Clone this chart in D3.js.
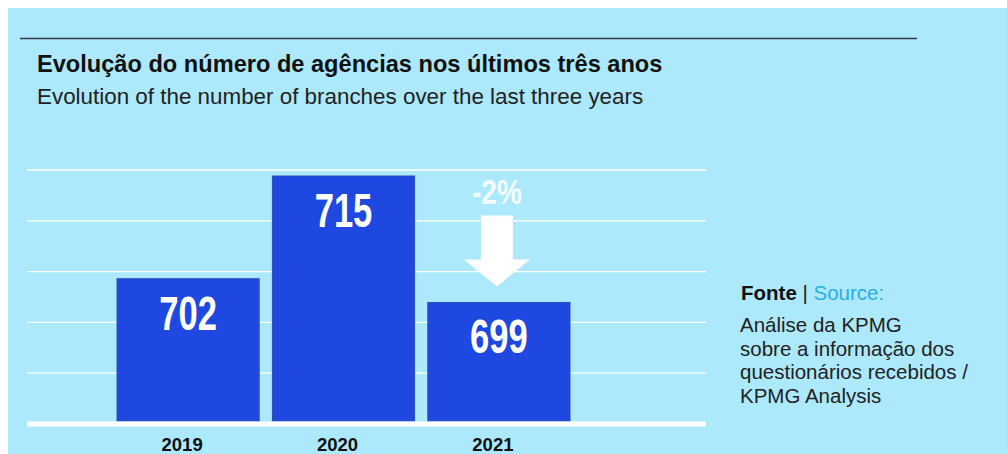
<!DOCTYPE html>
<html><head><meta charset="utf-8">
<script src="https://cdn.jsdelivr.net/npm/d3@7"></script>
<style>
html,body{margin:0;padding:0;background:#fff;}
svg{display:block;}
</style></head>
<body>
<script>
const years = ["2019", "2020", "2021"];
const branches = [702, 715, 699];
const changeLabel = "-2%";
const titlePt = "Evolução do número de agências nos últimos três anos";
const titleEn = "Evolution of the number of branches over the last three years";
const sourceLines = ["Análise da KPMG", "sobre a informação dos", "questionários recebidos /", "KPMG Analysis"];

const W = 1007, H = 454;
const svg = d3.select("body").append("svg").attr("width", W).attr("height", H);

svg.append("rect").attr("x", 8).attr("y", 8).attr("width", W - 8).attr("height", H - 8).attr("fill", "#ace9fc");

svg.append("line").attr("x1", 20).attr("x2", 917).attr("y1", 38.5).attr("y2", 38.5)
  .attr("stroke", "#2f3b40").attr("stroke-width", 1.3);

svg.append("text").attr("x", 37).attr("y", 72).text(titlePt)
  .attr("font-family", "Liberation Sans, Arial, sans-serif").attr("font-weight", "bold")
  .attr("font-size", 23.6).attr("fill", "#111");
svg.append("text").attr("x", 37).attr("y", 104).text(titleEn)
  .attr("font-family", "Liberation Sans, Arial, sans-serif")
  .attr("font-size", 22.4).attr("fill", "#222");

const x = d3.scaleBand().domain(years).range([117, 570]).paddingInner(0.085).paddingOuter(0);
const y = d3.scaleLinear().domain([684, 715]).range([421, 176]);
const grid = d3.scaleLinear().domain([0, 5]).range([424, 170]);

const g = svg.append("g");
g.selectAll("line.grid").data(d3.range(1, 6)).join("line").attr("class", "grid")
  .attr("x1", 27).attr("x2", 706).attr("y1", d => grid(d)).attr("y2", d => grid(d))
  .attr("stroke", "#ffffff").attr("stroke-width", 1.3);

g.selectAll("rect.bar").data(branches).join("rect").attr("class", "bar")
  .attr("x", (d, i) => x(years[i])).attr("width", x.bandwidth())
  .attr("y", d => y(d)).attr("height", d => y.range()[0] - y(d))
  .attr("fill", "#1f48e0").attr("stroke", "#2d4fb8").attr("stroke-width", 1);

g.append("line").attr("x1", 27).attr("x2", 706).attr("y1", grid(0)).attr("y2", grid(0))
  .attr("stroke", "#ffffff").attr("stroke-width", 5);

g.selectAll("text.val").data(branches).join("text").attr("class", "val")
  .attr("transform", (d, i) => `translate(${x(years[i]) + x.bandwidth() / 2},${y(d) + 51}) scale(0.72,1)`)
  .attr("text-anchor", "middle").text(d => d)
  .attr("font-family", "Liberation Sans, Arial, sans-serif").attr("font-weight", "bold")
  .attr("font-size", 48).attr("fill", "#ffffff");

g.selectAll("text.yr").data(years).join("text").attr("class", "yr")
  .attr("x", d => x(d) + x.bandwidth() / 2 - 6).attr("y", 451)
  .attr("text-anchor", "middle").text(d => d)
  .attr("font-family", "Liberation Sans, Arial, sans-serif").attr("font-weight", "bold")
  .attr("font-size", 18.5).attr("fill", "#111");

// change arrow over last bar
const last = years.length - 1;
const cx = x(years[last]) + x.bandwidth() / 2 - 2;
const tipY = y(branches[last]) - 16;
const p = d3.path();
p.moveTo(cx - 16, tipY - 71);
p.lineTo(cx + 16, tipY - 71);
p.lineTo(cx + 16, tipY - 27);
p.lineTo(cx + 33, tipY - 27);
p.lineTo(cx, tipY);
p.lineTo(cx - 33, tipY - 27);
p.lineTo(cx - 16, tipY - 27);
p.closePath();
g.append("path").attr("d", p.toString()).attr("fill", "#ffffff");

g.append("text").attr("transform", `translate(${cx},${tipY - 82}) scale(0.78,1)`)
  .attr("text-anchor", "middle").text(changeLabel)
  .attr("font-family", "Liberation Sans, Arial, sans-serif").attr("font-weight", "bold")
  .attr("font-size", 36).attr("fill", "#ffffff").attr("fill-opacity", 0.9);

// source
const src = svg.append("text").attr("x", 741).attr("y", 300)
  .attr("font-family", "Liberation Sans, Arial, sans-serif").attr("font-size", 20.5);
src.append("tspan").text("Fonte").attr("font-weight", "bold").attr("fill", "#111");
src.append("tspan").text(" | ").attr("fill", "#222");
src.append("tspan").text("Source:").attr("fill", "#29aee6");

svg.selectAll("text.src").data(sourceLines).join("text").attr("class", "src")
  .attr("x", 740).attr("y", (d, i) => 332 + i * 23.5).text(d => d)
  .attr("font-family", "Liberation Sans, Arial, sans-serif").attr("font-size", 20.5).attr("fill", "#222");
</script>
</body></html>
